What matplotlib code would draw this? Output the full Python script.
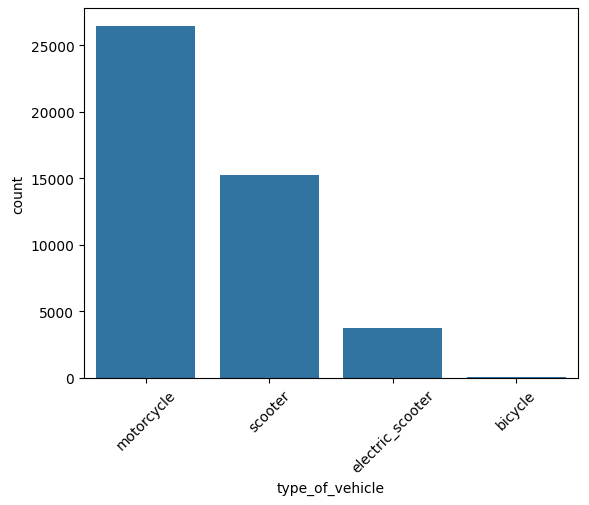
import matplotlib
matplotlib.use("Agg")
import matplotlib.pyplot as plt

categories = ["motorcycle", "scooter", "electric_scooter", "bicycle"]
counts = [26430, 15240, 3750, 110]

fig = plt.figure(figsize=(5.89, 5.06), dpi=100)
ax = fig.add_axes([84/589, 1-379/506, (578-84)/589, (379-9)/506])
ax.bar(range(len(categories)), counts, width=0.8, color="#3274a1")
ax.set_xticks(range(len(categories)))
ax.set_xticklabels(categories, rotation=45)
ax.set_xlim(-0.5, len(categories)-0.5)
ax.set_ylim(0, 27780)
ax.set_xlabel("type_of_vehicle")
ax.set_ylabel("count")
fig.savefig("out.png", dpi=100)
